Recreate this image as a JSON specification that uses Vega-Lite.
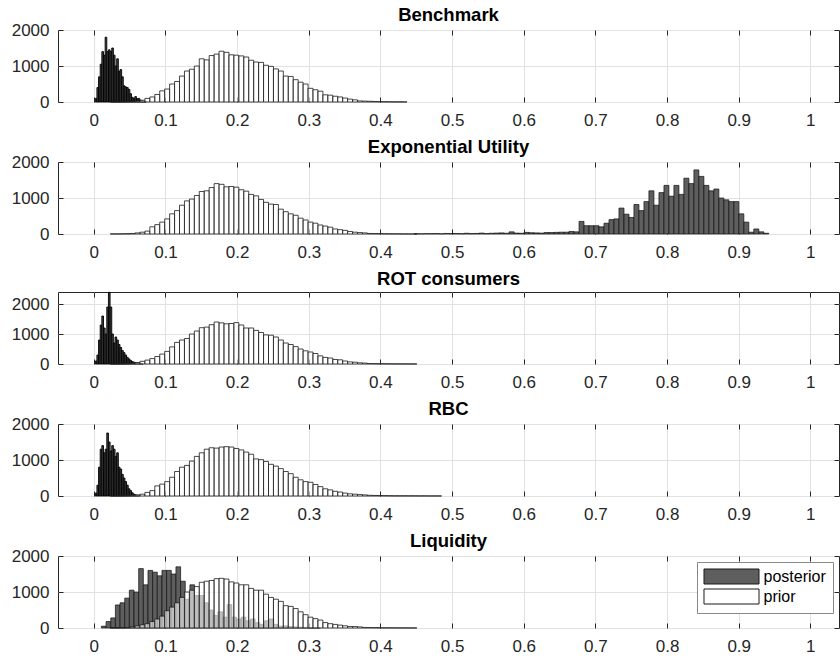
{
"$schema":"https://vega.github.io/schema/vega-lite/v6.json",
"padding":{"left":10,"top":5,"right":0,"bottom":0},
"background":"white",
"config":{
"font":"Liberation Sans",
"view":{"stroke":"#262626","strokeWidth":1},
"axis":{"labelFont":"Liberation Sans","labelFontSize":17,"labelColor":"#262626","tickColor":"#262626","gridColor":"#e2e2e2","domain":false,"title":null,"tickSize":-5},
"title":{"font":"Liberation Sans","fontSize":18.5,"fontWeight":"bold","color":"#000","offset":-3,"baseline":"alphabetic","anchor":"middle"},
"concat":{"spacing":8}
},
"resolve":{"scale":{"color":"independent"},"legend":{"color":"independent"}},
"datasets":{
"bp":[{"a":0.002,"b":0.0043,"c":100},{"a":0.0043,"b":0.0066,"c":400},{"a":0.0066,"b":0.0089,"c":700},{"a":0.0089,"b":0.0112,"c":1050},{"a":0.0112,"b":0.0135,"c":1400},{"a":0.0135,"b":0.0158,"c":1300},{"a":0.0158,"b":0.0181,"c":1800},{"a":0.0181,"b":0.0204,"c":1400},{"a":0.0204,"b":0.0227,"c":1450},{"a":0.0227,"b":0.025,"c":1400},{"a":0.025,"b":0.0273,"c":1500},{"a":0.0273,"b":0.0296,"c":1300},{"a":0.0296,"b":0.0319,"c":1000},{"a":0.0319,"b":0.0342,"c":1200},{"a":0.0342,"b":0.0365,"c":850},{"a":0.0365,"b":0.0388,"c":900},{"a":0.0388,"b":0.0411,"c":700},{"a":0.0411,"b":0.0434,"c":450},{"a":0.0434,"b":0.0457,"c":420},{"a":0.0457,"b":0.048,"c":400},{"a":0.048,"b":0.0503,"c":350},{"a":0.0503,"b":0.0526,"c":230},{"a":0.0526,"b":0.0549,"c":130},{"a":0.0549,"b":0.0572,"c":100},{"a":0.0572,"b":0.0595,"c":150},{"a":0.0595,"b":0.0618,"c":90},{"a":0.0618,"b":0.0641,"c":100},{"a":0.0641,"b":0.0664,"c":50},{"a":0.0664,"b":0.0687,"c":30},{"a":0.0687,"b":0.071,"c":20},{"a":0.071,"b":0.0733,"c":10}],
"rp":[{"a":0.002,"b":0.0043,"c":100},{"a":0.0043,"b":0.0066,"c":300},{"a":0.0066,"b":0.0089,"c":800},{"a":0.0089,"b":0.0112,"c":1300},{"a":0.0112,"b":0.0135,"c":1600},{"a":0.0135,"b":0.0158,"c":1200},{"a":0.0158,"b":0.0181,"c":1000},{"a":0.0181,"b":0.0204,"c":1900},{"a":0.0204,"b":0.0227,"c":2390},{"a":0.0227,"b":0.025,"c":1900},{"a":0.025,"b":0.0273,"c":1000},{"a":0.0273,"b":0.0296,"c":700},{"a":0.0296,"b":0.0319,"c":900},{"a":0.0319,"b":0.0342,"c":800},{"a":0.0342,"b":0.0365,"c":650},{"a":0.0365,"b":0.0388,"c":550},{"a":0.0388,"b":0.0411,"c":450},{"a":0.0411,"b":0.0434,"c":380},{"a":0.0434,"b":0.0457,"c":300},{"a":0.0457,"b":0.048,"c":220},{"a":0.048,"b":0.0503,"c":170},{"a":0.0503,"b":0.0526,"c":120},{"a":0.0526,"b":0.0549,"c":80},{"a":0.0549,"b":0.0572,"c":60},{"a":0.0572,"b":0.0595,"c":40},{"a":0.0595,"b":0.0618,"c":30},{"a":0.0618,"b":0.0641,"c":30},{"a":0.0641,"b":0.0664,"c":20},{"a":0.0664,"b":0.0687,"c":10}],
"qp":[{"a":0.002,"b":0.0043,"c":80},{"a":0.0043,"b":0.0066,"c":300},{"a":0.0066,"b":0.0089,"c":800},{"a":0.0089,"b":0.0112,"c":1300},{"a":0.0112,"b":0.0135,"c":1400},{"a":0.0135,"b":0.0158,"c":1200},{"a":0.0158,"b":0.0181,"c":1300},{"a":0.0181,"b":0.0204,"c":1750},{"a":0.0204,"b":0.0227,"c":1500},{"a":0.0227,"b":0.025,"c":1250},{"a":0.025,"b":0.0273,"c":1400},{"a":0.0273,"b":0.0296,"c":1300},{"a":0.0296,"b":0.0319,"c":1100},{"a":0.0319,"b":0.0342,"c":1200},{"a":0.0342,"b":0.0365,"c":800},{"a":0.0365,"b":0.0388,"c":750},{"a":0.0388,"b":0.0411,"c":600},{"a":0.0411,"b":0.0434,"c":500},{"a":0.0434,"b":0.0457,"c":400},{"a":0.0457,"b":0.048,"c":300},{"a":0.048,"b":0.0503,"c":200},{"a":0.0503,"b":0.0526,"c":150},{"a":0.0526,"b":0.0549,"c":90},{"a":0.0549,"b":0.0572,"c":50},{"a":0.0572,"b":0.0595,"c":30},{"a":0.0595,"b":0.0618,"c":20},{"a":0.0618,"b":0.0641,"c":15}],
"lp":[{"a":0.0106,"b":0.0171,"c":50},{"a":0.0171,"b":0.0236,"c":180},{"a":0.0236,"b":0.0301,"c":280},{"a":0.0301,"b":0.0366,"c":640},{"a":0.0366,"b":0.0431,"c":700},{"a":0.0431,"b":0.0496,"c":830},{"a":0.0496,"b":0.0561,"c":1050},{"a":0.0561,"b":0.0626,"c":1000},{"a":0.0626,"b":0.0691,"c":1650},{"a":0.0691,"b":0.0756,"c":1200},{"a":0.0756,"b":0.0821,"c":1600},{"a":0.0821,"b":0.0886,"c":1550},{"a":0.0886,"b":0.0951,"c":1450},{"a":0.0951,"b":0.1016,"c":1600},{"a":0.1016,"b":0.1081,"c":1600},{"a":0.1081,"b":0.1146,"c":1500},{"a":0.1146,"b":0.1211,"c":1700},{"a":0.1211,"b":0.1276,"c":1300},{"a":0.1276,"b":0.1341,"c":800},{"a":0.1341,"b":0.1406,"c":1200},{"a":0.1406,"b":0.1471,"c":900},{"a":0.1471,"b":0.1536,"c":900},{"a":0.1536,"b":0.1601,"c":700},{"a":0.1601,"b":0.1666,"c":500},{"a":0.1666,"b":0.1731,"c":350},{"a":0.1731,"b":0.1796,"c":450},{"a":0.1796,"b":0.1861,"c":300},{"a":0.1861,"b":0.1926,"c":650},{"a":0.1926,"b":0.1991,"c":300},{"a":0.1991,"b":0.2056,"c":250},{"a":0.2056,"b":0.2121,"c":300},{"a":0.2121,"b":0.2186,"c":200},{"a":0.2186,"b":0.2251,"c":250},{"a":0.2251,"b":0.2316,"c":150},{"a":0.2316,"b":0.2381,"c":100},{"a":0.2381,"b":0.2446,"c":200},{"a":0.2446,"b":0.2511,"c":250},{"a":0.2511,"b":0.2576,"c":100},{"a":0.2576,"b":0.2641,"c":50},{"a":0.2641,"b":0.2706,"c":60},{"a":0.2706,"b":0.2771,"c":40},{"a":0.2771,"b":0.2836,"c":30},{"a":0.2836,"b":0.2901,"c":20},{"a":0.2901,"b":0.2966,"c":15},{"a":0.2966,"b":0.3031,"c":10},{"a":0.3031,"b":0.3096,"c":8},{"a":0.3096,"b":0.3161,"c":6}],
"ep":[{"a":0.4472,"b":0.4541,"c":8},{"a":0.4541,"b":0.4611,"c":5},{"a":0.4611,"b":0.4681,"c":10},{"a":0.4681,"b":0.475,"c":8},{"a":0.475,"b":0.482,"c":12},{"a":0.482,"b":0.489,"c":6},{"a":0.489,"b":0.4959,"c":15},{"a":0.4959,"b":0.5029,"c":10},{"a":0.5029,"b":0.5099,"c":12},{"a":0.5099,"b":0.5169,"c":8},{"a":0.5169,"b":0.5238,"c":20},{"a":0.5238,"b":0.5308,"c":10},{"a":0.5308,"b":0.5378,"c":15},{"a":0.5378,"b":0.5447,"c":25},{"a":0.5447,"b":0.5517,"c":12},{"a":0.5517,"b":0.5587,"c":20},{"a":0.5587,"b":0.5656,"c":25},{"a":0.5656,"b":0.5726,"c":30},{"a":0.5726,"b":0.5796,"c":20},{"a":0.5796,"b":0.5866,"c":60},{"a":0.5866,"b":0.5935,"c":25},{"a":0.5935,"b":0.6005,"c":20},{"a":0.6005,"b":0.6075,"c":45},{"a":0.6075,"b":0.6144,"c":35},{"a":0.6144,"b":0.6214,"c":30},{"a":0.6214,"b":0.6284,"c":25},{"a":0.6284,"b":0.6353,"c":40},{"a":0.6353,"b":0.6423,"c":40},{"a":0.6423,"b":0.6493,"c":45},{"a":0.6493,"b":0.6563,"c":50},{"a":0.6563,"b":0.6632,"c":50},{"a":0.6632,"b":0.6702,"c":70},{"a":0.6702,"b":0.6772,"c":60},{"a":0.6772,"b":0.6841,"c":350},{"a":0.6841,"b":0.6911,"c":230},{"a":0.6911,"b":0.6981,"c":230},{"a":0.6981,"b":0.705,"c":230},{"a":0.705,"b":0.712,"c":200},{"a":0.712,"b":0.719,"c":300},{"a":0.719,"b":0.726,"c":400},{"a":0.726,"b":0.7329,"c":420},{"a":0.7329,"b":0.7399,"c":720},{"a":0.7399,"b":0.7469,"c":550},{"a":0.7469,"b":0.7538,"c":460},{"a":0.7538,"b":0.7608,"c":820},{"a":0.7608,"b":0.7678,"c":650},{"a":0.7678,"b":0.7747,"c":900},{"a":0.7747,"b":0.7817,"c":1200},{"a":0.7817,"b":0.7887,"c":800},{"a":0.7887,"b":0.7957,"c":1150},{"a":0.7957,"b":0.8026,"c":1350},{"a":0.8026,"b":0.8096,"c":1050},{"a":0.8096,"b":0.8166,"c":1350},{"a":0.8166,"b":0.8235,"c":1100},{"a":0.8235,"b":0.8305,"c":1550},{"a":0.8305,"b":0.8375,"c":1400},{"a":0.8375,"b":0.8444,"c":1780},{"a":0.8444,"b":0.8514,"c":1600},{"a":0.8514,"b":0.8584,"c":1350},{"a":0.8584,"b":0.8654,"c":1200},{"a":0.8654,"b":0.8723,"c":1250},{"a":0.8723,"b":0.8793,"c":1000},{"a":0.8793,"b":0.8863,"c":950},{"a":0.8863,"b":0.8932,"c":900},{"a":0.8932,"b":0.9002,"c":900},{"a":0.9002,"b":0.9072,"c":560},{"a":0.9072,"b":0.9141,"c":330},{"a":0.9141,"b":0.9211,"c":50},{"a":0.9211,"b":0.9281,"c":140},{"a":0.9281,"b":0.9351,"c":60},{"a":0.9351,"b":0.942,"c":20}],
"bq":[{"a":0.023,"b":0.0299,"c":2},{"a":0.0299,"b":0.0368,"c":3},{"a":0.0368,"b":0.0437,"c":5},{"a":0.0437,"b":0.0506,"c":8},{"a":0.0506,"b":0.0575,"c":15},{"a":0.0575,"b":0.0644,"c":25},{"a":0.0644,"b":0.0713,"c":50},{"a":0.0713,"b":0.0782,"c":100},{"a":0.0782,"b":0.0851,"c":140},{"a":0.0851,"b":0.092,"c":210},{"a":0.092,"b":0.0989,"c":310},{"a":0.0989,"b":0.1058,"c":360},{"a":0.1058,"b":0.1127,"c":500},{"a":0.1127,"b":0.1196,"c":570},{"a":0.1196,"b":0.1265,"c":720},{"a":0.1265,"b":0.1334,"c":860},{"a":0.1334,"b":0.1403,"c":910},{"a":0.1403,"b":0.1472,"c":1000},{"a":0.1472,"b":0.1541,"c":1200},{"a":0.1541,"b":0.161,"c":1170},{"a":0.161,"b":0.1679,"c":1290},{"a":0.1679,"b":0.1748,"c":1330},{"a":0.1748,"b":0.1817,"c":1410},{"a":0.1817,"b":0.1886,"c":1380},{"a":0.1886,"b":0.1955,"c":1310},{"a":0.1955,"b":0.2024,"c":1300},{"a":0.2024,"b":0.2093,"c":1280},{"a":0.2093,"b":0.2162,"c":1250},{"a":0.2162,"b":0.2231,"c":1160},{"a":0.2231,"b":0.23,"c":1110},{"a":0.23,"b":0.2369,"c":1100},{"a":0.2369,"b":0.2438,"c":1020},{"a":0.2438,"b":0.2507,"c":990},{"a":0.2507,"b":0.2576,"c":920},{"a":0.2576,"b":0.2645,"c":860},{"a":0.2645,"b":0.2714,"c":720},{"a":0.2714,"b":0.2783,"c":710},{"a":0.2783,"b":0.2852,"c":620},{"a":0.2852,"b":0.2921,"c":550},{"a":0.2921,"b":0.299,"c":500},{"a":0.299,"b":0.3059,"c":380},{"a":0.3059,"b":0.3128,"c":340},{"a":0.3128,"b":0.3197,"c":300},{"a":0.3197,"b":0.3266,"c":200},{"a":0.3266,"b":0.3335,"c":190},{"a":0.3335,"b":0.3404,"c":160},{"a":0.3404,"b":0.3473,"c":140},{"a":0.3473,"b":0.3542,"c":110},{"a":0.3542,"b":0.3611,"c":80},{"a":0.3611,"b":0.368,"c":60},{"a":0.368,"b":0.3749,"c":30},{"a":0.3749,"b":0.3818,"c":25},{"a":0.3818,"b":0.3887,"c":20},{"a":0.3887,"b":0.3956,"c":15},{"a":0.3956,"b":0.4025,"c":10},{"a":0.4025,"b":0.4094,"c":8},{"a":0.4094,"b":0.4163,"c":6},{"a":0.4163,"b":0.4232,"c":5},{"a":0.4232,"b":0.4301,"c":4},{"a":0.4301,"b":0.437,"c":3}],
"eq":[{"a":0.023,"b":0.0299,"c":2},{"a":0.0299,"b":0.0368,"c":3},{"a":0.0368,"b":0.0437,"c":5},{"a":0.0437,"b":0.0506,"c":8},{"a":0.0506,"b":0.0575,"c":15},{"a":0.0575,"b":0.0644,"c":30},{"a":0.0644,"b":0.0713,"c":50},{"a":0.0713,"b":0.0782,"c":80},{"a":0.0782,"b":0.0851,"c":200},{"a":0.0851,"b":0.092,"c":260},{"a":0.092,"b":0.0989,"c":330},{"a":0.0989,"b":0.1058,"c":420},{"a":0.1058,"b":0.1127,"c":560},{"a":0.1127,"b":0.1196,"c":650},{"a":0.1196,"b":0.1265,"c":800},{"a":0.1265,"b":0.1334,"c":920},{"a":0.1334,"b":0.1403,"c":970},{"a":0.1403,"b":0.1472,"c":1070},{"a":0.1472,"b":0.1541,"c":1180},{"a":0.1541,"b":0.161,"c":1200},{"a":0.161,"b":0.1679,"c":1290},{"a":0.1679,"b":0.1748,"c":1400},{"a":0.1748,"b":0.1817,"c":1380},{"a":0.1817,"b":0.1886,"c":1310},{"a":0.1886,"b":0.1955,"c":1320},{"a":0.1955,"b":0.2024,"c":1300},{"a":0.2024,"b":0.2093,"c":1230},{"a":0.2093,"b":0.2162,"c":1190},{"a":0.2162,"b":0.2231,"c":1100},{"a":0.2231,"b":0.23,"c":1060},{"a":0.23,"b":0.2369,"c":960},{"a":0.2369,"b":0.2438,"c":880},{"a":0.2438,"b":0.2507,"c":830},{"a":0.2507,"b":0.2576,"c":820},{"a":0.2576,"b":0.2645,"c":690},{"a":0.2645,"b":0.2714,"c":620},{"a":0.2714,"b":0.2783,"c":560},{"a":0.2783,"b":0.2852,"c":520},{"a":0.2852,"b":0.2921,"c":440},{"a":0.2921,"b":0.299,"c":390},{"a":0.299,"b":0.3059,"c":330},{"a":0.3059,"b":0.3128,"c":300},{"a":0.3128,"b":0.3197,"c":250},{"a":0.3197,"b":0.3266,"c":220},{"a":0.3266,"b":0.3335,"c":190},{"a":0.3335,"b":0.3404,"c":140},{"a":0.3404,"b":0.3473,"c":120},{"a":0.3473,"b":0.3542,"c":100},{"a":0.3542,"b":0.3611,"c":70},{"a":0.3611,"b":0.368,"c":50},{"a":0.368,"b":0.3749,"c":40},{"a":0.3749,"b":0.3818,"c":30},{"a":0.3818,"b":0.3887,"c":15},{"a":0.3887,"b":0.3956,"c":12},{"a":0.3956,"b":0.4025,"c":10},{"a":0.4025,"b":0.4094,"c":8},{"a":0.4094,"b":0.4163,"c":6},{"a":0.4163,"b":0.4232,"c":5},{"a":0.4232,"b":0.4301,"c":4},{"a":0.4301,"b":0.437,"c":3},{"a":0.437,"b":0.4439,"c":2},{"a":0.4439,"b":0.4508,"c":2}],
"rq":[{"a":0.023,"b":0.0299,"c":2},{"a":0.0299,"b":0.0368,"c":3},{"a":0.0368,"b":0.0437,"c":5},{"a":0.0437,"b":0.0506,"c":10},{"a":0.0506,"b":0.0575,"c":25},{"a":0.0575,"b":0.0644,"c":50},{"a":0.0644,"b":0.0713,"c":90},{"a":0.0713,"b":0.0782,"c":130},{"a":0.0782,"b":0.0851,"c":180},{"a":0.0851,"b":0.092,"c":250},{"a":0.092,"b":0.0989,"c":330},{"a":0.0989,"b":0.1058,"c":420},{"a":0.1058,"b":0.1127,"c":570},{"a":0.1127,"b":0.1196,"c":720},{"a":0.1196,"b":0.1265,"c":800},{"a":0.1265,"b":0.1334,"c":850},{"a":0.1334,"b":0.1403,"c":1000},{"a":0.1403,"b":0.1472,"c":1100},{"a":0.1472,"b":0.1541,"c":1210},{"a":0.1541,"b":0.161,"c":1230},{"a":0.161,"b":0.1679,"c":1310},{"a":0.1679,"b":0.1748,"c":1400},{"a":0.1748,"b":0.1817,"c":1370},{"a":0.1817,"b":0.1886,"c":1340},{"a":0.1886,"b":0.1955,"c":1350},{"a":0.1955,"b":0.2024,"c":1380},{"a":0.2024,"b":0.2093,"c":1300},{"a":0.2093,"b":0.2162,"c":1200},{"a":0.2162,"b":0.2231,"c":1200},{"a":0.2231,"b":0.23,"c":1120},{"a":0.23,"b":0.2369,"c":1050},{"a":0.2369,"b":0.2438,"c":970},{"a":0.2438,"b":0.2507,"c":960},{"a":0.2507,"b":0.2576,"c":900},{"a":0.2576,"b":0.2645,"c":800},{"a":0.2645,"b":0.2714,"c":700},{"a":0.2714,"b":0.2783,"c":650},{"a":0.2783,"b":0.2852,"c":580},{"a":0.2852,"b":0.2921,"c":500},{"a":0.2921,"b":0.299,"c":440},{"a":0.299,"b":0.3059,"c":400},{"a":0.3059,"b":0.3128,"c":350},{"a":0.3128,"b":0.3197,"c":270},{"a":0.3197,"b":0.3266,"c":220},{"a":0.3266,"b":0.3335,"c":200},{"a":0.3335,"b":0.3404,"c":150},{"a":0.3404,"b":0.3473,"c":140},{"a":0.3473,"b":0.3542,"c":100},{"a":0.3542,"b":0.3611,"c":70},{"a":0.3611,"b":0.368,"c":60},{"a":0.368,"b":0.3749,"c":40},{"a":0.3749,"b":0.3818,"c":30},{"a":0.3818,"b":0.3887,"c":15},{"a":0.3887,"b":0.3956,"c":12},{"a":0.3956,"b":0.4025,"c":10},{"a":0.4025,"b":0.4094,"c":8},{"a":0.4094,"b":0.4163,"c":6},{"a":0.4163,"b":0.4232,"c":5},{"a":0.4232,"b":0.4301,"c":4},{"a":0.4301,"b":0.437,"c":3},{"a":0.437,"b":0.4439,"c":3},{"a":0.4439,"b":0.4508,"c":2}],
"qq":[{"a":0.023,"b":0.0299,"c":2},{"a":0.0299,"b":0.0368,"c":3},{"a":0.0368,"b":0.0437,"c":5},{"a":0.0437,"b":0.0506,"c":10},{"a":0.0506,"b":0.0575,"c":20},{"a":0.0575,"b":0.0644,"c":30},{"a":0.0644,"b":0.0713,"c":50},{"a":0.0713,"b":0.0782,"c":100},{"a":0.0782,"b":0.0851,"c":150},{"a":0.0851,"b":0.092,"c":280},{"a":0.092,"b":0.0989,"c":330},{"a":0.0989,"b":0.1058,"c":400},{"a":0.1058,"b":0.1127,"c":520},{"a":0.1127,"b":0.1196,"c":680},{"a":0.1196,"b":0.1265,"c":800},{"a":0.1265,"b":0.1334,"c":850},{"a":0.1334,"b":0.1403,"c":970},{"a":0.1403,"b":0.1472,"c":1100},{"a":0.1472,"b":0.1541,"c":1200},{"a":0.1541,"b":0.161,"c":1300},{"a":0.161,"b":0.1679,"c":1340},{"a":0.1679,"b":0.1748,"c":1330},{"a":0.1748,"b":0.1817,"c":1360},{"a":0.1817,"b":0.1886,"c":1370},{"a":0.1886,"b":0.1955,"c":1360},{"a":0.1955,"b":0.2024,"c":1320},{"a":0.2024,"b":0.2093,"c":1280},{"a":0.2093,"b":0.2162,"c":1220},{"a":0.2162,"b":0.2231,"c":1160},{"a":0.2231,"b":0.23,"c":1030},{"a":0.23,"b":0.2369,"c":1010},{"a":0.2369,"b":0.2438,"c":960},{"a":0.2438,"b":0.2507,"c":880},{"a":0.2507,"b":0.2576,"c":830},{"a":0.2576,"b":0.2645,"c":760},{"a":0.2645,"b":0.2714,"c":680},{"a":0.2714,"b":0.2783,"c":620},{"a":0.2783,"b":0.2852,"c":520},{"a":0.2852,"b":0.2921,"c":450},{"a":0.2921,"b":0.299,"c":400},{"a":0.299,"b":0.3059,"c":380},{"a":0.3059,"b":0.3128,"c":320},{"a":0.3128,"b":0.3197,"c":260},{"a":0.3197,"b":0.3266,"c":200},{"a":0.3266,"b":0.3335,"c":170},{"a":0.3335,"b":0.3404,"c":130},{"a":0.3404,"b":0.3473,"c":110},{"a":0.3473,"b":0.3542,"c":80},{"a":0.3542,"b":0.3611,"c":60},{"a":0.3611,"b":0.368,"c":50},{"a":0.368,"b":0.3749,"c":40},{"a":0.3749,"b":0.3818,"c":30},{"a":0.3818,"b":0.3887,"c":20},{"a":0.3887,"b":0.3956,"c":15},{"a":0.3956,"b":0.4025,"c":12},{"a":0.4025,"b":0.4094,"c":10},{"a":0.4094,"b":0.4163,"c":8},{"a":0.4163,"b":0.4232,"c":6},{"a":0.4232,"b":0.4301,"c":5},{"a":0.4301,"b":0.437,"c":6},{"a":0.437,"b":0.4439,"c":4},{"a":0.4439,"b":0.4508,"c":5},{"a":0.4508,"b":0.4577,"c":3},{"a":0.4577,"b":0.4646,"c":4},{"a":0.4646,"b":0.4715,"c":2},{"a":0.4715,"b":0.4784,"c":3},{"a":0.4784,"b":0.4853,"c":2}],
"lq":[{"a":0.023,"b":0.0299,"c":1},{"a":0.0299,"b":0.0368,"c":2},{"a":0.0368,"b":0.0437,"c":5},{"a":0.0437,"b":0.0506,"c":10},{"a":0.0506,"b":0.0575,"c":30},{"a":0.0575,"b":0.0644,"c":60},{"a":0.0644,"b":0.0713,"c":90},{"a":0.0713,"b":0.0782,"c":120},{"a":0.0782,"b":0.0851,"c":180},{"a":0.0851,"b":0.092,"c":250},{"a":0.092,"b":0.0989,"c":330},{"a":0.0989,"b":0.1058,"c":480},{"a":0.1058,"b":0.1127,"c":580},{"a":0.1127,"b":0.1196,"c":700},{"a":0.1196,"b":0.1265,"c":850},{"a":0.1265,"b":0.1334,"c":1000},{"a":0.1334,"b":0.1403,"c":1050},{"a":0.1403,"b":0.1472,"c":1150},{"a":0.1472,"b":0.1541,"c":1270},{"a":0.1541,"b":0.161,"c":1300},{"a":0.161,"b":0.1679,"c":1320},{"a":0.1679,"b":0.1748,"c":1370},{"a":0.1748,"b":0.1817,"c":1380},{"a":0.1817,"b":0.1886,"c":1360},{"a":0.1886,"b":0.1955,"c":1280},{"a":0.1955,"b":0.2024,"c":1250},{"a":0.2024,"b":0.2093,"c":1200},{"a":0.2093,"b":0.2162,"c":1200},{"a":0.2162,"b":0.2231,"c":1100},{"a":0.2231,"b":0.23,"c":1050},{"a":0.23,"b":0.2369,"c":1050},{"a":0.2369,"b":0.2438,"c":940},{"a":0.2438,"b":0.2507,"c":850},{"a":0.2507,"b":0.2576,"c":800},{"a":0.2576,"b":0.2645,"c":740},{"a":0.2645,"b":0.2714,"c":620},{"a":0.2714,"b":0.2783,"c":600},{"a":0.2783,"b":0.2852,"c":540},{"a":0.2852,"b":0.2921,"c":450},{"a":0.2921,"b":0.299,"c":370},{"a":0.299,"b":0.3059,"c":300},{"a":0.3059,"b":0.3128,"c":260},{"a":0.3128,"b":0.3197,"c":220},{"a":0.3197,"b":0.3266,"c":150},{"a":0.3266,"b":0.3335,"c":120},{"a":0.3335,"b":0.3404,"c":100},{"a":0.3404,"b":0.3473,"c":80},{"a":0.3473,"b":0.3542,"c":60},{"a":0.3542,"b":0.3611,"c":40},{"a":0.3611,"b":0.368,"c":40},{"a":0.368,"b":0.3749,"c":30},{"a":0.3749,"b":0.3818,"c":15},{"a":0.3818,"b":0.3887,"c":12},{"a":0.3887,"b":0.3956,"c":10},{"a":0.3956,"b":0.4025,"c":8},{"a":0.4025,"b":0.4094,"c":6},{"a":0.4094,"b":0.4163,"c":5},{"a":0.4163,"b":0.4232,"c":4},{"a":0.4232,"b":0.4301,"c":3},{"a":0.4301,"b":0.437,"c":3},{"a":0.437,"b":0.4439,"c":2},{"a":0.4439,"b":0.4508,"c":2}]
},
"vconcat":[
{"width":781,"height":72,"title":"Benchmark","resolve":{"axis":{"x":"independent","y":"independent"}},
"layer":[
{"data":{"name":"bp"},"mark":{"type":"bar","fill":"#444","stroke":"#000","strokeWidth":0.9},
"encoding":{"x":{"field":"a","type":"quantitative","scale":{"domain":[-0.05,1.04],"nice":false,"zero":false},"axis":{"orient":"bottom","values":[0,0.1,0.2,0.3,0.4,0.5,0.6,0.7,0.8,0.9,1],"format":"~g","grid":true,"labelPadding":15.5}},"x2":{"field":"b"},
"y":{"field":"c","type":"quantitative","scale":{"domain":[0,2000],"nice":false},"axis":{"orient":"left","values":[0,1000,2000],"format":"d","grid":true,"labelPadding":14}},"y2":{"datum":0}}},
{"data":{"name":"bq"},"mark":{"type":"bar","fill":"white","fillOpacity":0.6,"stroke":"#1a1a1a","strokeWidth":0.8},
"encoding":{"x":{"field":"a","type":"quantitative","axis":{"orient":"top","values":[0,0.1,0.2,0.3,0.4,0.5,0.6,0.7,0.8,0.9,1],"labels":false,"grid":false}},"x2":{"field":"b"},
"y":{"field":"c","type":"quantitative","axis":{"orient":"right","values":[0,1000,2000],"labels":false,"grid":false}},"y2":{"datum":0}}}
]},
{"width":781,"height":72,"title":"Exponential Utility","resolve":{"axis":{"x":"independent","y":"independent"}},
"layer":[
{"data":{"name":"ep"},"mark":{"type":"bar","fill":"#5e5e5e","stroke":"#111","strokeWidth":0.7},
"encoding":{"x":{"field":"a","type":"quantitative","scale":{"domain":[-0.05,1.04],"nice":false,"zero":false},"axis":{"orient":"bottom","values":[0,0.1,0.2,0.3,0.4,0.5,0.6,0.7,0.8,0.9,1],"format":"~g","grid":true,"labelPadding":15.5}},"x2":{"field":"b"},
"y":{"field":"c","type":"quantitative","scale":{"domain":[0,2000],"nice":false},"axis":{"orient":"left","values":[0,1000,2000],"format":"d","grid":true,"labelPadding":14}},"y2":{"datum":0}}},
{"data":{"name":"eq"},"mark":{"type":"bar","fill":"white","fillOpacity":0.6,"stroke":"#1a1a1a","strokeWidth":0.8},
"encoding":{"x":{"field":"a","type":"quantitative","axis":{"orient":"top","values":[0,0.1,0.2,0.3,0.4,0.5,0.6,0.7,0.8,0.9,1],"labels":false,"grid":false}},"x2":{"field":"b"},
"y":{"field":"c","type":"quantitative","axis":{"orient":"right","values":[0,1000,2000],"labels":false,"grid":false}},"y2":{"datum":0}}}
]},
{"width":781,"height":72,"title":{"text":"ROT consumers","offset":3},"resolve":{"axis":{"x":"independent","y":"independent"}},
"layer":[
{"data":{"name":"rp"},"mark":{"type":"bar","fill":"#444","stroke":"#000","strokeWidth":0.9},
"encoding":{"x":{"field":"a","type":"quantitative","scale":{"domain":[-0.05,1.04],"nice":false,"zero":false},"axis":{"orient":"bottom","values":[0,0.1,0.2,0.3,0.4,0.5,0.6,0.7,0.8,0.9,1],"format":"~g","grid":true,"labelPadding":15.5}},"x2":{"field":"b"},
"y":{"field":"c","type":"quantitative","scale":{"domain":[0,2400],"nice":false},"axis":{"orient":"left","values":[0,1000,2000],"format":"d","grid":true,"labelPadding":14}},"y2":{"datum":0}}},
{"data":{"name":"rq"},"mark":{"type":"bar","fill":"white","fillOpacity":0.6,"stroke":"#1a1a1a","strokeWidth":0.8},
"encoding":{"x":{"field":"a","type":"quantitative","axis":{"orient":"top","values":[0,0.1,0.2,0.3,0.4,0.5,0.6,0.7,0.8,0.9,1],"labels":false,"grid":false}},"x2":{"field":"b"},
"y":{"field":"c","type":"quantitative","axis":{"orient":"right","values":[0,1000,2000],"labels":false,"grid":false}},"y2":{"datum":0}}}
]},
{"width":781,"height":72,"title":"RBC","resolve":{"axis":{"x":"independent","y":"independent"}},
"layer":[
{"data":{"name":"qp"},"mark":{"type":"bar","fill":"#444","stroke":"#000","strokeWidth":0.9},
"encoding":{"x":{"field":"a","type":"quantitative","scale":{"domain":[-0.05,1.04],"nice":false,"zero":false},"axis":{"orient":"bottom","values":[0,0.1,0.2,0.3,0.4,0.5,0.6,0.7,0.8,0.9,1],"format":"~g","grid":true,"labelPadding":15.5}},"x2":{"field":"b"},
"y":{"field":"c","type":"quantitative","scale":{"domain":[0,2000],"nice":false},"axis":{"orient":"left","values":[0,1000,2000],"format":"d","grid":true,"labelPadding":14}},"y2":{"datum":0}}},
{"data":{"name":"qq"},"mark":{"type":"bar","fill":"white","fillOpacity":0.6,"stroke":"#1a1a1a","strokeWidth":0.8},
"encoding":{"x":{"field":"a","type":"quantitative","axis":{"orient":"top","values":[0,0.1,0.2,0.3,0.4,0.5,0.6,0.7,0.8,0.9,1],"labels":false,"grid":false}},"x2":{"field":"b"},
"y":{"field":"c","type":"quantitative","axis":{"orient":"right","values":[0,1000,2000],"labels":false,"grid":false}},"y2":{"datum":0}}}
]},
{"width":781,"height":72,"title":"Liquidity","resolve":{"axis":{"x":"independent","y":"independent"}},
"layer":[
{"data":{"name":"lp"},"mark":{"type":"bar","stroke":"#111","strokeWidth":0.7},
"encoding":{"x":{"field":"a","type":"quantitative","scale":{"domain":[-0.05,1.04],"nice":false,"zero":false},"axis":{"orient":"bottom","values":[0,0.1,0.2,0.3,0.4,0.5,0.6,0.7,0.8,0.9,1],"format":"~g","grid":true,"labelPadding":15.5}},"x2":{"field":"b"},
"y":{"field":"c","type":"quantitative","scale":{"domain":[0,2000],"nice":false},"axis":{"orient":"left","values":[0,1000,2000],"format":"d","grid":true,"labelPadding":14}},"y2":{"datum":0},
"color":{"datum":"posterior","type":"nominal","scale":{"domain":["posterior","prior"],"range":["#5e5e5e","#ffffff"]},
"legend":{"title":null,"orient":"top-right","offset":6,"padding":6.5,"strokeColor":"#888","fillColor":"white","symbolType":"M-3.667,-1H3.667V1H-3.667Z","symbolSize":225,"symbolOffset":20,"symbolStrokeColor":"#333","symbolStrokeWidth":1,"symbolOpacity":1,"symbolFillOpacity":1,"labelFont":"Liberation Sans","labelFontSize":16,"labelColor":"#000","rowPadding":0,"labelOffset":24}}}},
{"data":{"name":"lq"},"mark":{"type":"bar","fillOpacity":0.6,"stroke":"#1a1a1a","strokeWidth":0.8},
"encoding":{"x":{"field":"a","type":"quantitative","axis":{"orient":"top","values":[0,0.1,0.2,0.3,0.4,0.5,0.6,0.7,0.8,0.9,1],"labels":false,"grid":false}},"x2":{"field":"b"},
"y":{"field":"c","type":"quantitative","axis":{"orient":"right","values":[0,1000,2000],"labels":false,"grid":false}},"y2":{"datum":0},
"color":{"datum":"prior","type":"nominal"}}}
]}
]
}
